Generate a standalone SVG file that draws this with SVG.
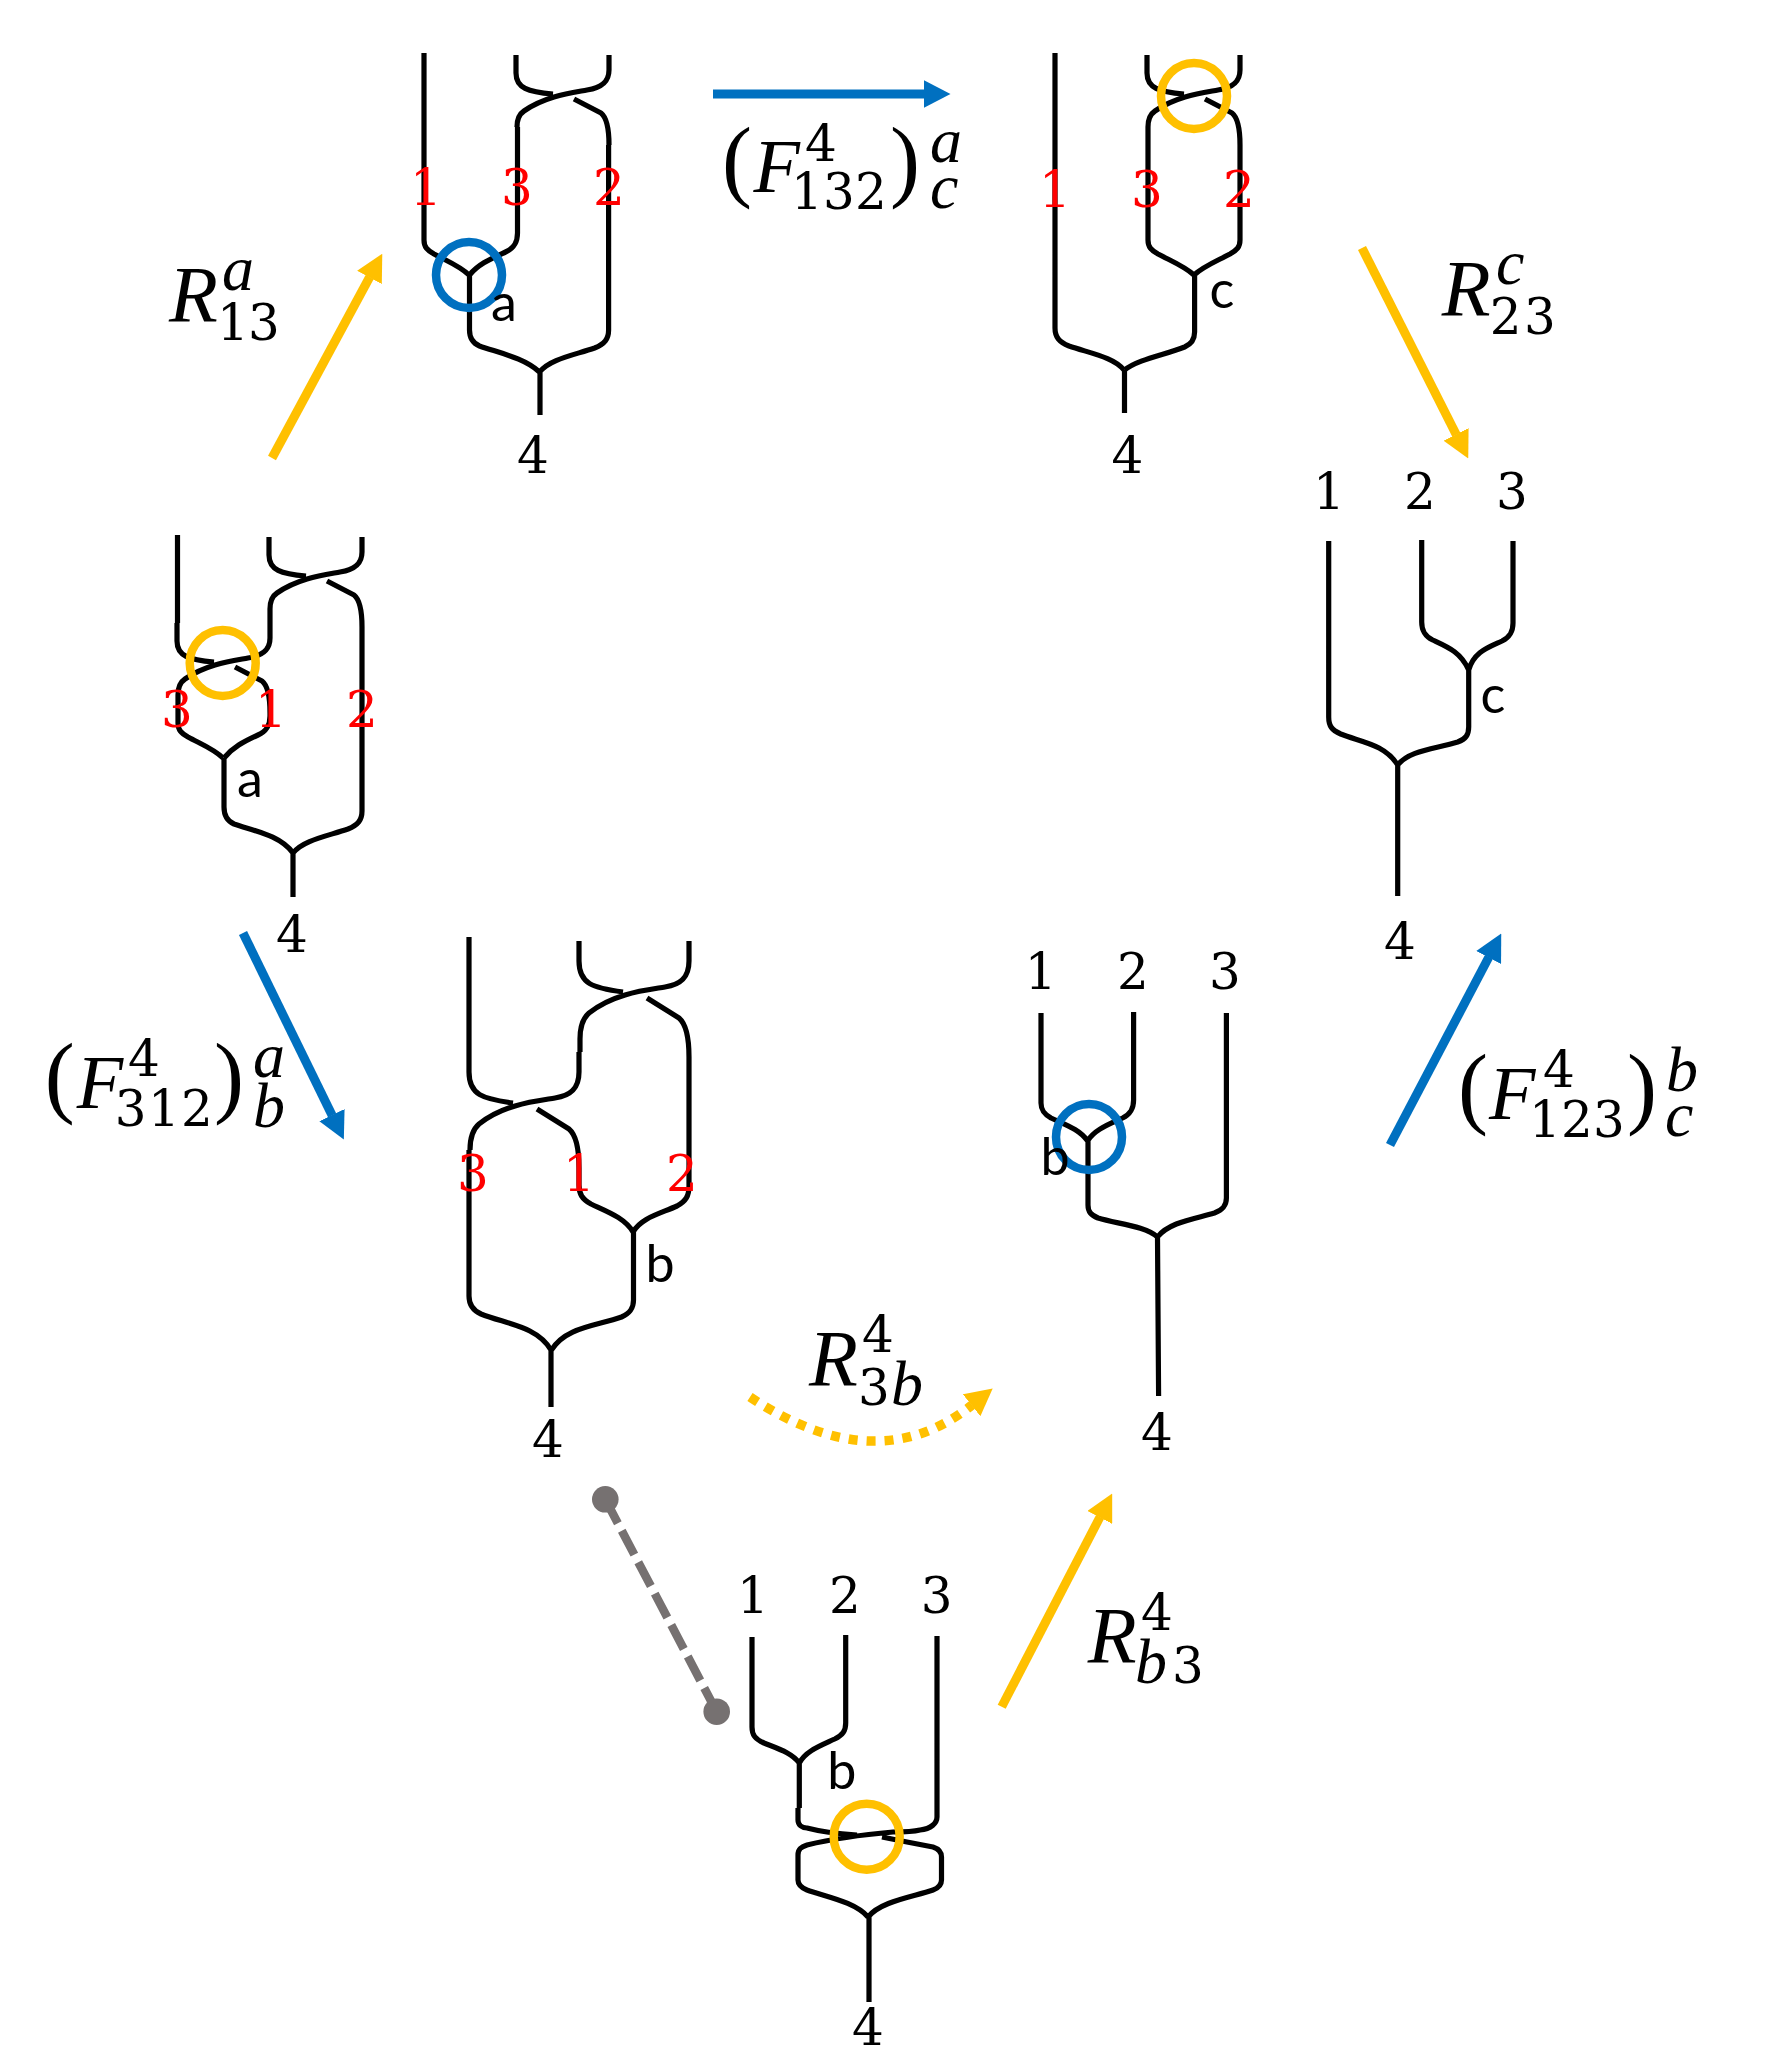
<svg xmlns="http://www.w3.org/2000/svg" xmlns:xlink="http://www.w3.org/1999/xlink" width="1768" height="2072" viewBox="0 0 1768 2072">
<style>
.bg{fill:#fff}
.s{fill:none;stroke:#000;stroke-width:5.2;stroke-linecap:butt;stroke-linejoin:round}
.ring-g{fill:none;stroke:#FFC000;stroke-width:8.5}
.ring-b{fill:none;stroke:#0070C0;stroke-width:8.5}
.num{font-family:"DejaVu Serif","Liberation Serif",serif;font-size:50px;text-anchor:middle;fill:#000}
.red{fill:#FF0000}
.ch{font-family:Lato,"Open Sans",sans-serif;font-size:52px;text-anchor:middle;fill:#000}
.m{font-family:"Liberation Serif",serif;fill:#000}
.R{font-style:italic;font-size:80px}
.F{font-style:italic;font-size:76px}
.sup{font-style:italic;font-size:64px}
.d{font-family:"DejaVu Serif","Liberation Serif",serif;font-size:50px}
.p{font-size:90px}
.a-g{fill:none;stroke:#FFC000;stroke-width:9}
.a-b{fill:none;stroke:#0070C0;stroke-width:9}
.a-d{fill:none;stroke:#FFC000;stroke-width:9.500;stroke-dasharray:9 9}
.a-x{fill:none;stroke:#767171;stroke-width:8.5;stroke-dasharray:27 8.5}
.dot{fill:#767171}
</style>
<defs>
<marker id="hg" markerUnits="userSpaceOnUse" viewBox="0 0 27 28" markerWidth="27" markerHeight="28" refX="0.5" refY="14" orient="auto"><path d="M0,0L27,14L0,28z" fill="#FFC000"/></marker>
<marker id="hb" markerUnits="userSpaceOnUse" viewBox="0 0 27 28" markerWidth="27" markerHeight="28" refX="0.5" refY="14" orient="auto"><path d="M0,0L27,14L0,28z" fill="#0070C0"/></marker>
<path id="cross" class="s" d="M0,0V18C0,33 12,37 37,39M93,0V15C93,28 84,33 71,35C55,38 30,41 8,56C2,60 1,68 1,72M58,44L85,58C90,62 93,74 93,90"/>
<path id="crossw" class="s" d="M0,0V20C0,43 14,47 44,51M110,0V20C110,38 100,44 86,46C68,49 35,52 10,72C3,78 1,90 1,98M68,57L100,77C107,83 110,97 110,116"/>
</defs>
<rect class="bg" width="1768" height="2072"/>

<g id="connectors">
<line class="a-g" x1="272" y1="458" x2="369.7" y2="277" marker-end="url(#hg)"/>
<line class="a-b" x1="713" y1="94" x2="924" y2="94" marker-end="url(#hb)"/>
<line class="a-g" x1="1362" y1="248" x2="1456.3" y2="434.8" marker-end="url(#hg)"/>
<line class="a-b" x1="1390" y1="1145" x2="1488.9" y2="957" marker-end="url(#hb)"/>
<line class="a-g" x1="1001.7" y1="1706.7" x2="1100" y2="1517" marker-end="url(#hg)"/>
<line class="a-b" x1="243" y1="933" x2="332.2" y2="1115.6" marker-end="url(#hb)"/>
<path class="a-d" d="M750,1397Q877,1481 972,1405" marker-end="url(#hg)"/>
<line class="a-x" x1="605.3" y1="1499.3" x2="716.7" y2="1711.7"/>
<circle class="dot" cx="605.3" cy="1499.3" r="13.3"/>
<circle class="dot" cx="716.7" cy="1711.7" r="13.3"/>
</g>

<g id="node-top-left">
<use href="#cross" xlink:href="#cross" x="516" y="55"/>
<path class="s" d="M424,53V240c0,7 3,10 10,14c13,7 26,12 35,21M517.5,127V233c0,9 -3,15 -12,19c-15,7 -27,12 -36,23M469.5,275V330c0,7 3,13 10,16c20,7 45,12 60,26M608.6,145V330c0,9 -4,14 -14,18c-20,7 -45,11 -55,24M540,372V415"/>
<circle class="ring-b" cx="469" cy="275" r="33"/>
<text class="num red" x="426" y="205">1</text><text class="num red" x="517" y="205">3</text><text class="num red" x="609" y="205">2</text>
<text class="ch" x="504" y="321">a</text>
<text class="num" x="533" y="473">4</text>
</g>

<g id="node-top-right">
<use href="#cross" xlink:href="#cross" x="1147" y="55"/>
<path class="s" d="M1055,53V328c0,9 4,14 14,18c20,7 45,11 55,24M1148,127V240c0,7 3,10 10,14c13,7 26,12 36,21M1240,145V240c0,7 -3,10 -10,14c-13,7 -26,12 -36,21M1194.6,275V332c0,7 -3,12 -10,15c-20,8 -46,12 -60,23M1124.5,370V413"/>
<circle class="ring-g" cx="1194" cy="96" r="33"/>
<text class="num red" x="1055" y="207">1</text><text class="num red" x="1147" y="207">3</text><text class="num red" x="1239" y="207">2</text>
<text class="ch" x="1222" y="308">c</text>
<text class="num" x="1127.5" y="473">4</text>
</g>

<g id="node-left">
<use href="#cross" xlink:href="#cross" x="269" y="537"/>
<use href="#cross" xlink:href="#cross" x="177" y="623"/>
<path class="s" d="M177.5,535V623M270,609V623M178,695V723c0,7 3,10 10,14c13,7 26,12 35,21M270,713V716c0,9 -3,15 -12,19c-15,7 -25,12 -34,23M224,758V807c0,8 3,14 10,17c20,7 46,11 59,29M362,627V811c0,9 -4,14 -14,18c-20,7 -45,11 -55,24M293,853V897"/>
<circle class="ring-g" cx="222.7" cy="663" r="33"/>
<text class="num red" x="177" y="727">3</text><text class="num red" x="271" y="727">1</text><text class="num red" x="362" y="727">2</text>
<text class="ch" x="250" y="797">a</text>
<text class="num" x="292" y="952">4</text>
</g>

<g id="node-center-left">
<use href="#crossw" xlink:href="#crossw" x="579" y="941"/>
<use href="#crossw" xlink:href="#crossw" x="469" y="1052"/>
<path class="s" d="M469,937V1052M580,1039V1052M469,1150V1296c0,8 3,14 12,18c25,10 56,12 70,36M579,1168V1185c0,9 3,14 12,19c17,8 34,14 42,28M689,1057V1186c0,10 -3,15 -12,20c-18,8 -36,12 -44,26M633.5,1232V1300c0,8 -3,13 -12,17c-25,9 -56,10 -70,33M551,1350V1407"/>
<text class="num red" x="473" y="1191">3</text><text class="num red" x="579" y="1191">1</text><text class="num red" x="682" y="1191">2</text>
<text class="ch" x="660" y="1282">b</text>
<text class="num" x="548" y="1457">4</text>
</g>

<g id="node-center-right">
<path class="s" d="M1041,1013V1103c0,7 3,11 10,15c15,7 28,11 36.500,22.700M1133.600,1012V1100c0,9 -3,14 -11,18c-15,7 -27,11 -35,22.700M1088,1140V1205c0,7 3,10 10,13c20,6 47,8 59.500,19M1226.400,1013V1198c0,8 -4,12 -12,15c-20,6 -45,9 -57,24M1157.500,1237L1158.600,1396"/>
<circle class="ring-b" cx="1089" cy="1137" r="33"/>
<text class="num" x="1040.700" y="989">1</text><text class="num" x="1133" y="989">2</text><text class="num" x="1225" y="989">3</text>
<text class="ch" x="1055" y="1174.600">b</text>
<text class="num" x="1157" y="1449.600">4</text>
</g>

<g id="node-right">
<path class="s" d="M1328.700,541V717c0,9 3,13 12,17c20,8 44,10 57,31M1421.700,540V622c0,9 3,14 11,18c15,7 28,12 36,30M1513,541V623c0,9 -3,14 -11,18c-15,7 -28,11 -33.300,29M1468.700,670V727c0,8 -3,12 -11,15c-22,7 -48,8 -60,23M1397.700,765V896"/>
<text class="num" x="1329" y="509">1</text><text class="num" x="1420" y="509">2</text><text class="num" x="1512" y="509">3</text>
<text class="ch" x="1493" y="713">c</text>
<text class="num" x="1400" y="959">4</text>
</g>

<g id="node-bottom">
<path class="s" d="M752,1637V1727c0,8 3,12 12,16c15,6 28,10 35.300,20M845.700,1635V1723c0,8 -3,12 -11,16c-15,7 -29,12 -35.400,24M799.300,1763V1808M798,1808V1820c0,5 4,8 9,8c15,4 35,6 50,7M937,1636V1817c0,6 -6,12 -17,13c-8,2 -18,2 -27,2C870,1834 840,1837 807,1845C801,1847 798,1849 798,1855V1880c0,5 4,8 9,10c20,7 48,12 61,27M882,1837L907,1842L933,1847C939,1849 941.500,1852 941.500,1857V1880c0,5 -3,8 -8.500,10c-20,7 -52,11 -65,27M869,1917V2002"/>
<circle class="ring-g" cx="866.700" cy="1836.700" r="33"/>
<text class="num" x="753" y="1612.700">1</text><text class="num" x="845" y="1612.700">2</text><text class="num" x="936.700" y="1612.700">3</text>
<text class="ch" x="841.700" y="1789">b</text>
<text class="num" x="868" y="2045">4</text>
</g>

<g id="labels">
<text class="m"><tspan class="R" x="169" y="322">R</tspan><tspan class="sup" x="222" y="290">a</tspan><tspan class="d" x="217 248" y="340">13</tspan></text>
<text class="m"><tspan class="p" x="722" y="190">(</tspan><tspan class="F" x="753.600" y="192">F</tspan><tspan class="d" x="805" y="161">4</tspan><tspan class="d" x="791 823 855" y="209">132</tspan><tspan class="p" x="890" y="190">)</tspan><tspan class="sup" x="930" y="162">a</tspan><tspan class="sup" x="930" y="208">c</tspan></text>
<text class="m"><tspan class="R" x="1441.700" y="316">R</tspan><tspan class="sup" x="1496" y="284">c</tspan><tspan class="d" x="1489.700 1524" y="334">23</tspan></text>
<text class="m"><tspan class="p" x="44.700" y="1106">(</tspan><tspan class="F" x="76.700" y="1108">F</tspan><tspan class="d" x="128" y="1076">4</tspan><tspan class="d" x="114.700 148 181" y="1126">312</tspan><tspan class="p" x="214" y="1106">)</tspan><tspan class="sup" x="253" y="1076.700">a</tspan><tspan class="sup" x="253" y="1127">b</tspan></text>
<text class="m"><tspan class="p" x="1458" y="1117">(</tspan><tspan class="F" x="1489" y="1119">F</tspan><tspan class="d" x="1543" y="1087">4</tspan><tspan class="d" x="1529 1561 1593" y="1137">123</tspan><tspan class="p" x="1627" y="1117">)</tspan><tspan class="sup" x="1666" y="1091">b</tspan><tspan class="sup" x="1665" y="1136">c</tspan></text>
<text class="m"><tspan class="R" x="809" y="1386.400">R</tspan><tspan class="d" x="862" y="1352">4</tspan><tspan class="d" x="858" y="1405">3</tspan><tspan class="sup" x="891" y="1405">b</tspan></text>
<text class="m"><tspan class="R" x="1087.700" y="1663">R</tspan><tspan class="d" x="1141" y="1629.700">4</tspan><tspan class="sup" x="1135" y="1682.700">b</tspan><tspan class="d" x="1172" y="1682.700">3</tspan></text>
</g>
</svg>
